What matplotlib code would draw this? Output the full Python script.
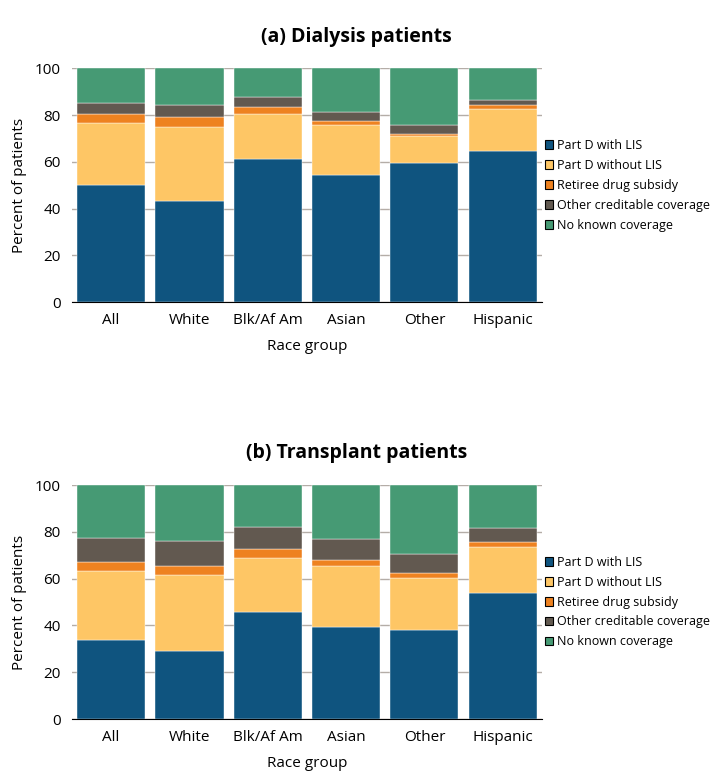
import matplotlib.pyplot as plt
import numpy as np

# categories and series (percent of patients)
groups = ['All', 'White', 'Blk/Af Am', 'Asian', 'Other', 'Hispanic']
series = ['Part D with LIS', 'Part D without LIS', 'Retiree drug subsidy',
          'Other creditable coverage', 'No known coverage']
colors = ['#0f547f', '#fec665', '#ee8220', '#625950', '#469a74']

# (a) dialysis patients
dial_lis = [50.0, 43.3, 61.4, 54.3, 59.7, 64.5]
dial_nolis = [26.7, 31.7, 19.1, 21.3, 11.5, 18.2]
dial_rds = [3.6, 4.1, 2.9, 1.7, 0.8, 1.5]
dial_other = [4.9, 5.3, 4.2, 4.1, 3.9, 2.2]
dial_none = [14.8, 15.6, 12.4, 18.6, 24.1, 13.6]

# (b) transplant patients
tx_lis = [33.7, 29.1, 45.6, 39.2, 38.1, 54.0]
tx_nolis = [29.4, 32.3, 23.4, 26.1, 22.4, 19.6]
tx_rds = [4.2, 4.2, 3.9, 2.5, 2.1, 2.3]
tx_other = [10.1, 10.4, 9.3, 9.0, 8.0, 5.6]
tx_none = [22.6, 24.0, 17.8, 23.2, 29.4, 18.5]

plt.rcParams['font.family'] = ['Open Sans', 'DejaVu Sans']

fig = plt.figure(figsize=(7.13, 7.77), dpi=100)


def stacked(ax, parts, title, title_y):
    x = np.arange(len(groups))
    bottom = np.zeros(len(groups))
    for vals, name, col in zip(parts, series, colors):
        ax.bar(x, vals, 0.87, bottom=bottom, color=col, label=name,
               edgecolor='white', linewidth=0.3, zorder=3)
        bottom += np.array(vals)
    ax.set_xlim(-0.5, len(groups) - 0.5)
    ax.set_ylim(0, 100)
    ax.set_yticks([0, 20, 40, 60, 80, 100])
    ax.set_xticks(x)
    ax.set_xticklabels(groups, fontsize=11)
    ax.tick_params(axis='y', labelsize=11, length=0, pad=8)
    ax.tick_params(axis='x', length=0, pad=8)
    ax.grid(axis='y', color='#b4ada7', linewidth=1, zorder=0)
    for s in ['top', 'right', 'left']:
        ax.spines[s].set_visible(False)
    ax.spines['bottom'].set_color('black')
    ax.spines['bottom'].set_zorder(4)
    ax.set_xlabel('Race group', fontsize=11, labelpad=8)
    ax.set_ylabel('Percent of patients', fontsize=11, labelpad=6)
    fig.text(0.5, title_y, title, ha='center', va='center',
             fontsize=14, fontweight='bold')
    leg = ax.legend(loc='center left', bbox_to_anchor=(0.995, 0.5),
                    frameon=False, fontsize=9, handlelength=0.7,
                    handleheight=0.7, handletextpad=0.3, labelspacing=0.55,
                    borderaxespad=0)
    for h in leg.legend_handles:
        h.set_edgecolor('black')
        h.set_linewidth(0.8)


ax1 = fig.add_axes([0.101, 0.611, 0.659, 0.301])
stacked(ax1, [dial_lis, dial_nolis, dial_rds, dial_other, dial_none],
        '(a) Dialysis patients', 0.952)

ax2 = fig.add_axes([0.101, 0.0746, 0.659, 0.301])
stacked(ax2, [tx_lis, tx_nolis, tx_rds, tx_other, tx_none],
        '(b) Transplant patients', 0.417)

plt.savefig('out.png', dpi=100)
